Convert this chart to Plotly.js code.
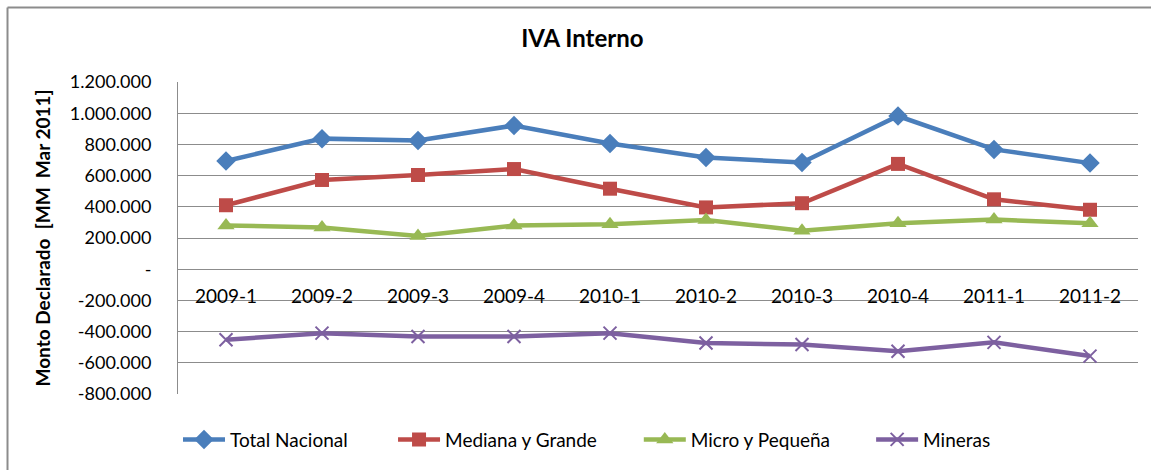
<!DOCTYPE html>
<html>
<head>
<meta charset="utf-8">
<script src="https://cdn.plot.ly/plotly-3.0.1.min.js"></script>
<style>html,body{margin:0;padding:0;background:#fff;}#chart{width:1151px;height:470px;}</style>
</head>
<body>
<div id="chart"></div>
<script>
const categories = ["2009-1","2009-2","2009-3","2009-4","2010-1","2010-2","2010-3","2010-4","2011-1","2011-2"];
const totalNacional = [694000, 837000, 825000, 921000, 806000, 716000, 684000, 982000, 768000, 680000];
const medianaYGrande = [410000, 572000, 604000, 642000, 516000, 396000, 423000, 675000, 448000, 381000];
const microYPequena = [280000, 268000, 213000, 280000, 288000, 316000, 246000, 295000, 318000, 295000];
const mineras = [-452000, -410000, -431000, -431000, -410000, -473000, -483000, -526000, -469000, -557000];
const yTickVals = [1200000, 1000000, 800000, 600000, 400000, 200000, 0, -200000, -400000, -600000, -800000];
const yTickText = ["1.200.000","1.000.000","800.000","600.000","400.000","200.000","-","-200.000","-400.000","-600.000","-800.000"];

const font = "Lato, 'Open Sans', sans-serif";
function tr(name, y, color, symbol, size, lw, legendId) {
  return {
    type: "scatter", mode: "lines+markers", name: name,
    x: categories, y: y, legend: legendId,
    line: {color: color, width: 4.5},
    marker: {symbol: symbol, size: size, color: color, line: {color: color, width: lw || 0}}
  };
}
const data = [
  tr("Total Nacional", totalNacional, "#4A7EBB", "diamond", 15, 0, "legend"),
  tr("Mediana y Grande", medianaYGrande, "#BE4B48", "square", 14, 0, "legend2"),
  tr("Micro y Pequeña", microYPequena, "#98B954", "triangle-up", 15, 0, "legend3"),
  tr("Mineras", mineras, "#7D60A0", "x-thin-open", 13, 2, "legend4")
];
function leg(x) {
  return {orientation: "h", x: x, xanchor: "left", y: -0.146, yanchor: "middle",
    font: {family: font, size: 19, color: "#000"}, bgcolor: "rgba(0,0,0,0)", itemwidth: 42};
}
const layout = {
  width: 1151, height: 470,
  margin: {l: 178, r: 13, t: 82, b: 74},
  paper_bgcolor: "#fff", plot_bgcolor: "#fff",
  font: {family: font, size: 18, color: "#000"},
  title: {text: "<b>IVA Interno</b>", x: 0.506, xanchor: "center", y: 0.918, yanchor: "middle", font: {family: font, size: 24, color: "#000"}},
  xaxis: {
    type: "category", anchor: "free", position: 0.4,
    showgrid: false, showline: false, zeroline: false, ticks: "",
    ticklabelstandoff: 14,
    tickfont: {family: font, size: 19, color: "#000"},
    range: [-0.5, 9.5]
  },
  yaxis: {
    range: [-800000, 1200000],
    tickvals: yTickVals, ticktext: yTickText,
    showgrid: true, gridcolor: "#8c8c8c", gridwidth: 1,
    zeroline: true, zerolinecolor: "#8c8c8c", zerolinewidth: 1,
    showline: true, linecolor: "#8c8c8c", linewidth: 1,
    ticks: "", ticklabelstandoff: 22,
    tickfont: {family: font, size: 18, color: "#000"},
    title: {text: "<b>Monto Declarado  [MM  Mar 2011]</b>", standoff: 14, font: {family: font, size: 19, color: "#000"}}
  },
  showlegend: true,
  legend: leg(0.0),
  legend2: leg(0.224),
  legend3: leg(0.480),
  legend4: leg(0.722),
  shapes: [
    {type: "line", xref: "paper", yref: "paper", x0: -0.1776, x1: 1.07, y0: 1.2385, y1: 1.2385, line: {color: "#8c8c8c", width: 2}},
    {type: "line", xref: "paper", yref: "paper", x0: -0.1776, x1: -0.1776, y0: 1.2385, y1: -0.25, line: {color: "#8c8c8c", width: 2}}
  ]
};
Plotly.newPlot("chart", data, layout, {displayModeBar: false, staticPlot: true});
</script>
</body>
</html>
